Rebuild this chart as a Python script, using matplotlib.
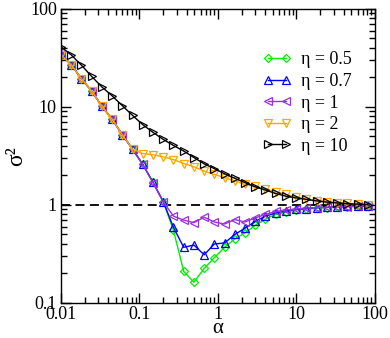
import matplotlib
matplotlib.use("Agg")
import matplotlib.pyplot as plt
from matplotlib.ticker import LogLocator, NullFormatter, FixedLocator, FixedFormatter

plt.rcParams['font.family'] = ['Liberation Serif', 'DejaVu Serif']
plt.rcParams['mathtext.fontset'] = 'stix'

alpha = [0.01, 0.0135, 0.0182, 0.0246, 0.0332, 0.0448, 0.0605, 0.0817, 0.110, 0.149,
         0.201, 0.271, 0.366, 0.494, 0.667, 0.90, 1.215, 1.64, 2.21, 2.99,
         4.03, 5.45, 7.35, 9.92, 13.4, 18.1, 24.4, 32.9, 44.5, 60.0, 81.0]

eta05 = [34.5, 27.0, 19.5, 14.5, 10.2, 7.5, 5.2, 3.7, 2.6, 1.7,
         1.08, 0.55, 0.21, 0.163, 0.225, 0.29, 0.37, 0.45, 0.52, 0.62,
         0.72, 0.80, 0.85, 0.89, 0.91, 0.93, 0.94, 0.95, 0.96, 0.97, 0.97]
eta07 = [34.5, 27.0, 19.5, 14.5, 10.2, 7.5, 5.2, 3.7, 2.6, 1.7,
         1.08, 0.59, 0.37, 0.39, 0.31, 0.40, 0.41, 0.50, 0.58, 0.68,
         0.77, 0.83, 0.87, 0.90, 0.92, 0.94, 0.95, 0.96, 0.97, 0.97, 0.98]
eta1 = [34.5, 27.0, 19.5, 14.5, 10.2, 7.5, 5.2, 3.7, 2.6, 1.68,
        1.07, 0.77, 0.70, 0.66, 0.75, 0.67, 0.64, 0.71, 0.67, 0.74,
        0.80, 0.86, 0.89, 0.91, 0.93, 0.94, 0.95, 0.96, 0.96, 0.97, 0.97]
eta2 = [34.0, 27.0, 19.5, 14.5, 10.2, 7.5, 5.2, 3.7, 3.35, 3.25,
        3.1, 2.9, 2.65, 2.45, 2.22, 2.05, 1.9, 1.76, 1.62, 1.55,
        1.45, 1.37, 1.28, 1.2, 1.15, 1.11, 1.08, 1.06, 1.04, 1.02, 1.01]
eta10 = [41.0, 34.0, 26.7, 20.5, 16.0, 13.0, 10.3, 8.2, 6.6, 5.5,
         4.67, 4.05, 3.55, 3.05, 2.63, 2.35, 2.08, 1.87, 1.69, 1.53,
         1.42, 1.31, 1.23, 1.18, 1.14, 1.10, 1.07, 1.05, 1.03, 1.02, 1.01]

series = [
    (eta05, '#00ee00', 'D', 'η = 0.5', 4.5),
    (eta07, '#0000ff', '^', 'η = 0.7', 6),
    (eta1, '#9a30e0', '<', 'η = 1', 6),
    (eta2, '#ffa500', 'v', 'η = 2', 6),
    (eta10, '#000000', '>', 'η = 10', 6),
]

xticks = [0.01, 0.1, 1, 10, 100]
xticklabels = ['0.01', '0.1', '1', '10', '100']
yticks = [0.1, 1, 10, 100]
yticklabels = ['0.1', '1', '10', '100']

fig = plt.figure(figsize=(3.9, 3.38), dpi=100)
ax = fig.add_axes([0.1564, 0.1036, 0.805, 0.8698])

ax.axhline(1.0, color='black', lw=1.3, ls=(0, (5, 3)), zorder=1)

for ys, c, m, lab, ms in series:
    ax.plot(alpha, ys, color=c, marker=m, ms=ms, mfc='none', mec=c, mew=0.9,
            lw=1.0, label=lab, zorder=2)

ax.set_xscale('log')
ax.set_yscale('log')
ax.set_xlim(0.01, 100)
ax.set_ylim(0.1, 100)

ax.xaxis.set_major_locator(FixedLocator(xticks))
ax.xaxis.set_major_formatter(FixedFormatter(xticklabels))
ax.yaxis.set_major_locator(FixedLocator(yticks))
ax.yaxis.set_major_formatter(FixedFormatter(yticklabels))
ax.xaxis.set_minor_locator(LogLocator(base=10, subs=range(2, 10), numticks=20))
ax.yaxis.set_minor_locator(LogLocator(base=10, subs=range(2, 10), numticks=20))
ax.xaxis.set_minor_formatter(NullFormatter())
ax.yaxis.set_minor_formatter(NullFormatter())

ax.tick_params(which='both', direction='in', top=True, right=True, labelsize=13)
ax.tick_params(which='major', length=7, width=1)
ax.tick_params(which='minor', length=4, width=1)
ax.tick_params(axis='x', pad=2)
ax.tick_params(axis='y', pad=3)
for s in ax.spines.values():
    s.set_linewidth(1.0)

ax.set_xlabel('α', fontsize=15, labelpad=-3)
ax.set_ylabel('σ²', fontsize=17, labelpad=2)

leg = ax.legend(loc='upper left', bbox_to_anchor=(0.62, 0.88), frameon=False,
                numpoints=2, handlelength=1.6, handletextpad=0.5,
                labelspacing=0.25, fontsize=13, borderaxespad=0)

fig.savefig('out.png', dpi=100)
